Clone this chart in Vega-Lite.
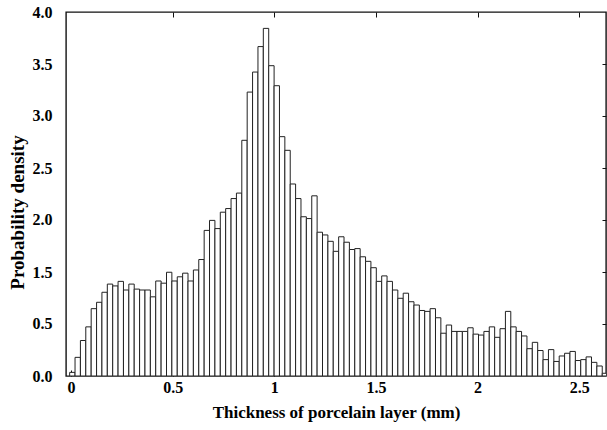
{
  "$schema": "https://vega.github.io/schema/vega-lite/v6.json",
  "width": 540,
  "height": 364,
  "autosize": {"type": "none"},
  "padding": {"left": 66, "top": 12, "right": 1, "bottom": 54},
  "background": "white",
  "config": {
    "view": {"stroke": "#111", "strokeWidth": 1.4},
    "axis": {"labelFont": "Liberation Serif", "titleFont": "Liberation Serif", "labelFontWeight": "bold", "titleFontWeight": "bold", "labelColor": "black", "titleColor": "black", "grid": false, "domain": false, "tickColor": "#111", "labelFontSize": 16, "titleFontSize": 17}
  },
  "data": {"values": [
    {"lo": -0.0070, "hi": 0.0195, "density": 0.04},
    {"lo": 0.0195, "hi": 0.0459, "density": 0.205},
    {"lo": 0.0459, "hi": 0.0724, "density": 0.39},
    {"lo": 0.0724, "hi": 0.0989, "density": 0.54},
    {"lo": 0.0989, "hi": 0.1254, "density": 0.74},
    {"lo": 0.1254, "hi": 0.1518, "density": 0.81},
    {"lo": 0.1518, "hi": 0.1783, "density": 0.92},
    {"lo": 0.1783, "hi": 0.2048, "density": 1.01},
    {"lo": 0.2048, "hi": 0.2312, "density": 0.99},
    {"lo": 0.2312, "hi": 0.2577, "density": 1.04},
    {"lo": 0.2577, "hi": 0.2842, "density": 0.945},
    {"lo": 0.2842, "hi": 0.3106, "density": 1.01},
    {"lo": 0.3106, "hi": 0.3371, "density": 0.955},
    {"lo": 0.3371, "hi": 0.3636, "density": 0.945},
    {"lo": 0.3636, "hi": 0.3901, "density": 0.945},
    {"lo": 0.3901, "hi": 0.4165, "density": 0.87},
    {"lo": 0.4165, "hi": 0.4430, "density": 1.044},
    {"lo": 0.4430, "hi": 0.4695, "density": 1.02},
    {"lo": 0.4695, "hi": 0.4959, "density": 1.14},
    {"lo": 0.4959, "hi": 0.5224, "density": 1.044},
    {"lo": 0.5224, "hi": 0.5489, "density": 1.09},
    {"lo": 0.5489, "hi": 0.5753, "density": 1.13},
    {"lo": 0.5753, "hi": 0.6018, "density": 1.044},
    {"lo": 0.6018, "hi": 0.6283, "density": 1.165},
    {"lo": 0.6283, "hi": 0.6548, "density": 1.28},
    {"lo": 0.6548, "hi": 0.6812, "density": 1.60},
    {"lo": 0.6812, "hi": 0.7077, "density": 1.71},
    {"lo": 0.7077, "hi": 0.7342, "density": 1.62},
    {"lo": 0.7342, "hi": 0.7606, "density": 1.80},
    {"lo": 0.7606, "hi": 0.7871, "density": 1.84},
    {"lo": 0.7871, "hi": 0.8136, "density": 1.95},
    {"lo": 0.8136, "hi": 0.8400, "density": 2.01},
    {"lo": 0.8400, "hi": 0.8665, "density": 2.59},
    {"lo": 0.8665, "hi": 0.8930, "density": 3.12},
    {"lo": 0.8930, "hi": 0.9195, "density": 3.34},
    {"lo": 0.9195, "hi": 0.9459, "density": 3.62},
    {"lo": 0.9459, "hi": 0.9724, "density": 3.82},
    {"lo": 0.9724, "hi": 0.9989, "density": 3.41},
    {"lo": 0.9989, "hi": 1.0253, "density": 3.19},
    {"lo": 1.0253, "hi": 1.0518, "density": 2.63},
    {"lo": 1.0518, "hi": 1.0783, "density": 2.48},
    {"lo": 1.0783, "hi": 1.1047, "density": 2.11},
    {"lo": 1.1047, "hi": 1.1312, "density": 1.95},
    {"lo": 1.1312, "hi": 1.1577, "density": 1.75},
    {"lo": 1.1577, "hi": 1.1842, "density": 1.73},
    {"lo": 1.1842, "hi": 1.2106, "density": 1.98},
    {"lo": 1.2106, "hi": 1.2371, "density": 1.58},
    {"lo": 1.2371, "hi": 1.2636, "density": 1.55},
    {"lo": 1.2636, "hi": 1.2900, "density": 1.48},
    {"lo": 1.2900, "hi": 1.3165, "density": 1.37},
    {"lo": 1.3165, "hi": 1.3430, "density": 1.53},
    {"lo": 1.3430, "hi": 1.3694, "density": 1.47},
    {"lo": 1.3694, "hi": 1.3959, "density": 1.39},
    {"lo": 1.3959, "hi": 1.4224, "density": 1.40},
    {"lo": 1.4224, "hi": 1.4489, "density": 1.31},
    {"lo": 1.4489, "hi": 1.4753, "density": 1.26},
    {"lo": 1.4753, "hi": 1.5018, "density": 1.19},
    {"lo": 1.5018, "hi": 1.5283, "density": 1.04},
    {"lo": 1.5283, "hi": 1.5547, "density": 1.10},
    {"lo": 1.5547, "hi": 1.5812, "density": 1.04},
    {"lo": 1.5812, "hi": 1.6077, "density": 0.945},
    {"lo": 1.6077, "hi": 1.6341, "density": 0.854},
    {"lo": 1.6341, "hi": 1.6606, "density": 0.91},
    {"lo": 1.6606, "hi": 1.6871, "density": 0.816},
    {"lo": 1.6871, "hi": 1.7136, "density": 0.78},
    {"lo": 1.7136, "hi": 1.7400, "density": 0.72},
    {"lo": 1.7400, "hi": 1.7665, "density": 0.71},
    {"lo": 1.7665, "hi": 1.7930, "density": 0.74},
    {"lo": 1.7930, "hi": 1.8194, "density": 0.64},
    {"lo": 1.8194, "hi": 1.8459, "density": 0.47},
    {"lo": 1.8459, "hi": 1.8724, "density": 0.56},
    {"lo": 1.8724, "hi": 1.8988, "density": 0.49},
    {"lo": 1.8988, "hi": 1.9253, "density": 0.49},
    {"lo": 1.9253, "hi": 1.9518, "density": 0.49},
    {"lo": 1.9518, "hi": 1.9783, "density": 0.53},
    {"lo": 1.9783, "hi": 2.0047, "density": 0.46},
    {"lo": 2.0047, "hi": 2.0312, "density": 0.45},
    {"lo": 2.0312, "hi": 2.0577, "density": 0.49},
    {"lo": 2.0577, "hi": 2.0841, "density": 0.54},
    {"lo": 2.0841, "hi": 2.1106, "density": 0.425},
    {"lo": 2.1106, "hi": 2.1371, "density": 0.52},
    {"lo": 2.1371, "hi": 2.1635, "density": 0.71},
    {"lo": 2.1635, "hi": 2.1900, "density": 0.54},
    {"lo": 2.1900, "hi": 2.2165, "density": 0.49},
    {"lo": 2.2165, "hi": 2.2430, "density": 0.44},
    {"lo": 2.2430, "hi": 2.2694, "density": 0.30},
    {"lo": 2.2694, "hi": 2.2959, "density": 0.37},
    {"lo": 2.2959, "hi": 2.3224, "density": 0.28},
    {"lo": 2.3224, "hi": 2.3488, "density": 0.18},
    {"lo": 2.3488, "hi": 2.3753, "density": 0.29},
    {"lo": 2.3753, "hi": 2.4018, "density": 0.16},
    {"lo": 2.4018, "hi": 2.4282, "density": 0.22},
    {"lo": 2.4282, "hi": 2.4547, "density": 0.25},
    {"lo": 2.4547, "hi": 2.4812, "density": 0.27},
    {"lo": 2.4812, "hi": 2.5077, "density": 0.17},
    {"lo": 2.5077, "hi": 2.5341, "density": 0.18},
    {"lo": 2.5341, "hi": 2.5606, "density": 0.21},
    {"lo": 2.5606, "hi": 2.5871, "density": 0.15},
    {"lo": 2.5871, "hi": 2.6135, "density": 0.11},
    {"lo": 2.6135, "hi": 2.6400, "density": 0.03}
  ]},
  "layer": [
    {
      "mark": {"type": "bar", "fill": "white", "stroke": "#222", "strokeWidth": 1, "clip": true},
      "encoding": {
        "x": {"field": "lo", "type": "quantitative", "scale": {"domain": [-0.025, 2.632], "nice": false, "zero": false},
          "axis": {"orient": "bottom", "title": "Thickness of porcelain layer (mm)", "values": [0, 0.5, 1, 1.5, 2, 2.5], "format": "~g", "tickSize": -6, "labelPadding": 9, "titlePadding": 9}},
        "x2": {"field": "hi"},
        "y": {"field": "density", "type": "quantitative", "scale": {"domain": [0, 4], "nice": false},
          "axis": {"orient": "left", "title": "Probability density", "ticks": false, "values": [0, 0.571429, 1.142857, 1.714286, 2.285714, 2.857143, 3.428571, 4], "labelExpr": "['0.0','0.5','1.5','2.0','2.5','3.0','3.5','4.0'][round(datum.value*7/4)]", "labelPadding": 14, "titlePadding": 5, "titleY": 200, "titleFontSize": 19}},
        "y2": {"datum": 0}
      }
    },
    {
      "mark": {"type": "bar", "opacity": 0, "clip": true},
      "encoding": {
        "x": {"field": "lo", "type": "quantitative", "axis": {"orient": "top", "title": null, "labels": false, "values": [0.5, 1, 1.5, 2, 2.5], "tickSize": -5}},
        "x2": {"field": "hi"},
        "y": {"field": "density", "type": "quantitative", "axis": {"orient": "right", "title": null, "labels": false, "values": [0.571429, 1.142857, 1.714286, 2.285714, 2.857143, 3.428571], "tickSize": -4}},
        "y2": {"datum": 0}
      }
    }
  ],
  "resolve": {"axis": {"x": "independent", "y": "independent"}}
}
